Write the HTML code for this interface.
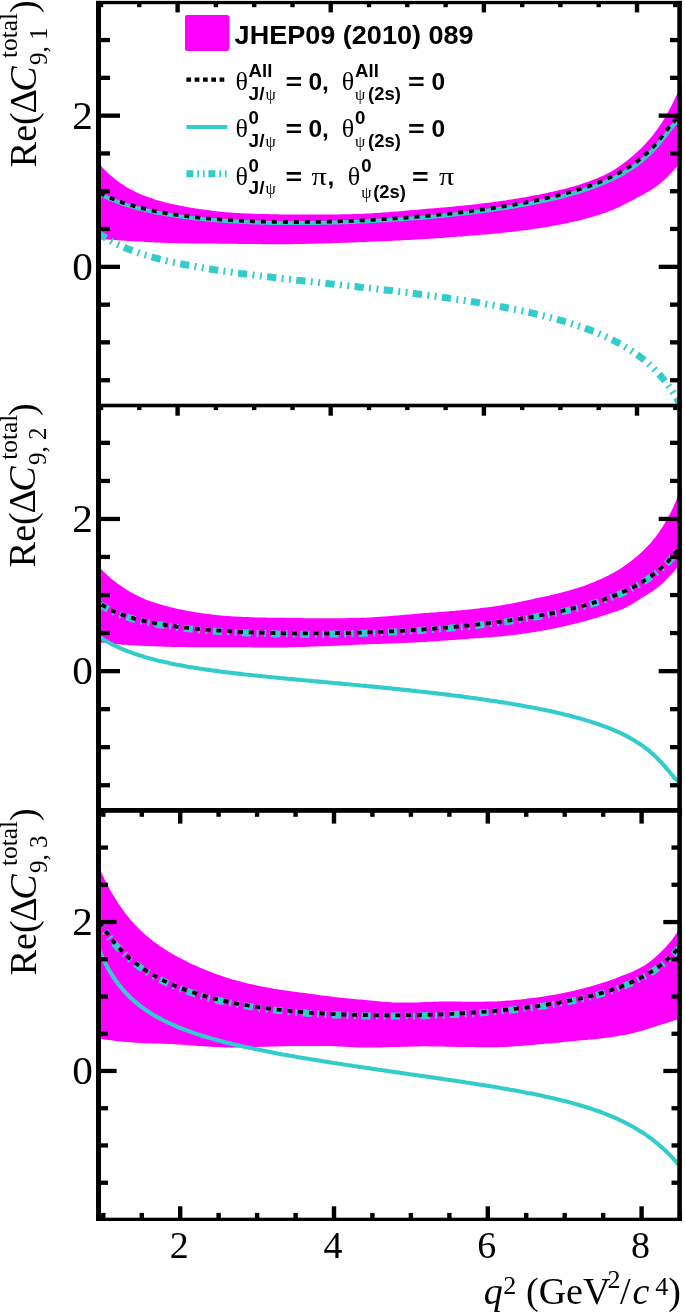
<!DOCTYPE html>
<html lang="en"><head><meta charset="utf-8"><title>Re(Delta C9 total) vs q2</title>
<style>html,body{margin:0;padding:0;background:#fff}svg{display:block;will-change:transform}.s{font-family:'Liberation Serif','Times New Roman',serif;fill:#000}.h{font-family:'Liberation Sans',Arial,sans-serif;font-weight:bold;fill:#000}.g{font-family:'Liberation Serif','Times New Roman',serif;fill:#000}</style></head><body>
<svg width="685" height="1312" viewBox="0 0 685 1312">
<rect width="685" height="1312" fill="#fff"/>
<defs>
<clipPath id="c1"><rect x="96" y="1.2" width="585.9" height="402.5"/></clipPath>
<clipPath id="c2"><rect x="96" y="404.3" width="585.9" height="403.7"/></clipPath>
<clipPath id="c3"><rect x="96" y="809.8" width="585.9" height="407.9"/></clipPath>
</defs>
<g clip-path="url(#c1)">
<polygon fill="#ff00ff" points="96,159.5 98.5,162.7 100.9,165.7 103.4,168.4 105.8,171 108.3,173.3 110.7,175.6 113.2,177.6 115.6,179.6 118.1,181.4 120.5,183.2 123,184.8 125.4,186.4 127.9,187.9 130.3,189.2 132.8,190.5 135.2,191.7 137.7,192.9 140.1,193.9 142.6,195 145,195.9 147.5,196.9 149.9,197.8 152.4,198.6 154.8,199.4 157.3,200.2 159.7,200.9 162.2,201.6 164.7,202.2 167.1,202.9 169.6,203.5 172,204 174.5,204.6 176.9,205.1 179.4,205.6 181.8,206.1 184.3,206.5 186.7,207 189.2,207.4 191.6,207.8 194.1,208.2 196.5,208.6 199,208.9 201.4,209.3 203.9,209.6 206.3,210 208.8,210.3 211.2,210.6 213.7,210.9 216.1,211.2 218.6,211.5 221,211.7 223.5,212 225.9,212.2 228.4,212.4 230.9,212.6 233.3,212.8 235.8,212.9 238.2,213.1 240.7,213.2 243.1,213.3 245.6,213.4 248,213.5 250.5,213.6 252.9,213.7 255.4,213.8 257.8,213.9 260.3,213.9 262.7,214 265.2,214.1 267.6,214.1 270.1,214.2 272.5,214.2 275,214.3 277.4,214.3 279.9,214.4 282.3,214.4 284.8,214.4 287.2,214.5 289.7,214.5 292.2,214.5 294.6,214.5 297.1,214.5 299.5,214.5 302,214.5 304.4,214.5 306.9,214.5 309.3,214.5 311.8,214.5 314.2,214.5 316.7,214.5 319.1,214.5 321.6,214.5 324,214.5 326.5,214.5 328.9,214.5 331.4,214.5 333.8,214.4 336.3,214.4 338.7,214.4 341.2,214.3 343.6,214.3 346.1,214.3 348.5,214.2 351,214.2 353.4,214.1 355.9,214 358.4,214 360.8,213.9 363.3,213.8 365.7,213.6 368.2,213.5 370.6,213.4 373.1,213.2 375.5,213.1 378,212.9 380.4,212.7 382.9,212.5 385.3,212.3 387.8,212.2 390.2,212 392.7,211.8 395.1,211.6 397.6,211.4 400,211.2 402.5,211 404.9,210.8 407.4,210.6 409.8,210.3 412.3,210.1 414.7,209.9 417.2,209.7 419.6,209.5 422.1,209.3 424.6,209.1 427,208.8 429.5,208.6 431.9,208.4 434.4,208.2 436.8,208 439.3,207.8 441.7,207.6 444.2,207.4 446.6,207.2 449.1,207 451.5,206.8 454,206.5 456.4,206.3 458.9,206.1 461.3,205.8 463.8,205.6 466.2,205.3 468.7,205.1 471.1,204.8 473.6,204.5 476,204.2 478.5,203.9 480.9,203.6 483.4,203.3 485.8,203 488.3,202.7 490.8,202.4 493.2,202.1 495.7,201.8 498.1,201.4 500.6,201.1 503,200.7 505.5,200.4 507.9,200 510.4,199.6 512.8,199.2 515.3,198.8 517.7,198.4 520.2,198 522.6,197.6 525.1,197.2 527.5,196.7 530,196.3 532.4,195.8 534.9,195.3 537.3,194.9 539.8,194.4 542.2,193.9 544.7,193.4 547.1,192.9 549.6,192.3 552.1,191.8 554.5,191.3 557,190.7 559.4,190.1 561.9,189.5 564.3,188.9 566.8,188.2 569.2,187.6 571.7,186.9 574.1,186.2 576.6,185.4 579,184.7 581.5,183.9 583.9,183.1 586.4,182.3 588.8,181.4 591.3,180.5 593.7,179.6 596.2,178.7 598.6,177.6 601.1,176.6 603.5,175.5 606,174.3 608.4,173 610.9,171.7 613.3,170.3 615.8,168.7 618.3,167.1 620.7,165.4 623.2,163.6 625.6,161.7 628.1,159.8 630.5,157.7 633,155.7 635.4,153.5 637.9,151.3 640.3,149 642.8,146.6 645.2,144 647.7,141.3 650.1,138.5 652.6,135.5 655,132.3 657.5,129 659.9,125.5 662.4,121.7 664.8,117.7 667.3,113.5 669.7,109.1 672.2,104.3 674.6,99.3 677.1,94 679.5,88.4 682,82.3 682,160.2 679.5,163.3 677.1,166.4 674.6,169.2 672.2,172 669.7,174.6 667.3,177.1 664.8,179.4 662.4,181.6 659.9,183.7 657.5,185.6 655,187.3 652.6,189 650.1,190.5 647.7,191.9 645.2,193.3 642.8,194.7 640.3,196 637.9,197.3 635.4,198.6 633,199.9 630.5,201.2 628.1,202.5 625.6,203.7 623.2,205 620.7,206.2 618.3,207.4 615.8,208.5 613.3,209.5 610.9,210.6 608.4,211.5 606,212.4 603.5,213.3 601.1,214.1 598.6,214.9 596.2,215.6 593.7,216.4 591.3,217.1 588.8,217.8 586.4,218.5 583.9,219.1 581.5,219.8 579,220.4 576.6,221 574.1,221.5 571.7,222.1 569.2,222.6 566.8,223.2 564.3,223.7 561.9,224.2 559.4,224.7 557,225.1 554.5,225.6 552.1,226 549.6,226.5 547.1,226.9 544.7,227.3 542.2,227.7 539.8,228.1 537.3,228.5 534.9,228.8 532.4,229.2 530,229.5 527.5,229.9 525.1,230.2 522.6,230.5 520.2,230.8 517.7,231.1 515.3,231.4 512.8,231.7 510.4,232 507.9,232.3 505.5,232.5 503,232.8 500.6,233 498.1,233.3 495.7,233.5 493.2,233.8 490.8,234 488.3,234.2 485.8,234.4 483.4,234.6 480.9,234.8 478.5,235 476,235.2 473.6,235.4 471.1,235.6 468.7,235.8 466.2,236 463.8,236.2 461.3,236.4 458.9,236.6 456.4,236.7 454,236.9 451.5,237.1 449.1,237.3 446.6,237.5 444.2,237.7 441.7,237.9 439.3,238 436.8,238.2 434.4,238.4 431.9,238.5 429.5,238.7 427,238.9 424.6,239 422.1,239.2 419.6,239.3 417.2,239.5 414.7,239.6 412.3,239.7 409.8,239.9 407.4,240 404.9,240.1 402.5,240.3 400,240.4 397.6,240.5 395.1,240.6 392.7,240.8 390.2,240.9 387.8,241 385.3,241.1 382.9,241.2 380.4,241.3 378,241.4 375.5,241.5 373.1,241.6 370.6,241.7 368.2,241.8 365.7,241.9 363.3,242 360.8,242.1 358.4,242.2 355.9,242.3 353.4,242.4 351,242.5 348.5,242.6 346.1,242.7 343.6,242.8 341.2,242.8 338.7,242.9 336.3,243 333.8,243.1 331.4,243.2 328.9,243.2 326.5,243.3 324,243.4 321.6,243.5 319.1,243.5 316.7,243.6 314.2,243.7 311.8,243.7 309.3,243.8 306.9,243.8 304.4,243.9 302,244 299.5,244 297.1,244.1 294.6,244.1 292.2,244.2 289.7,244.2 287.2,244.2 284.8,244.2 282.3,244.2 279.9,244.2 277.4,244.2 275,244.2 272.5,244.2 270.1,244.2 267.6,244.2 265.2,244.2 262.7,244.2 260.3,244.1 257.8,244.1 255.4,244.1 252.9,244.1 250.5,244 248,244 245.6,244 243.1,243.9 240.7,243.9 238.2,243.9 235.8,243.8 233.3,243.8 230.9,243.8 228.4,243.7 225.9,243.7 223.5,243.7 221,243.7 218.6,243.7 216.1,243.6 213.7,243.6 211.2,243.6 208.8,243.6 206.3,243.6 203.9,243.6 201.4,243.5 199,243.5 196.5,243.5 194.1,243.5 191.6,243.4 189.2,243.4 186.7,243.3 184.3,243.3 181.8,243.3 179.4,243.2 176.9,243.2 174.5,243.1 172,243 169.6,243 167.1,242.9 164.7,242.8 162.2,242.7 159.7,242.6 157.3,242.5 154.8,242.4 152.4,242.3 149.9,242.2 147.5,242 145,241.9 142.6,241.8 140.1,241.6 137.7,241.5 135.2,241.4 132.8,241.2 130.3,241.1 127.9,240.9 125.4,240.8 123,240.6 120.5,240.5 118.1,240.3 115.6,240.1 113.2,240 110.7,239.8 108.3,239.6 105.8,239.4 103.4,239.2 100.9,238.9 98.5,238.7 96,238.5"/>
<polyline stroke="#33cccc" stroke-width="4.0" fill="none" points="96,192 98.5,193.3 100.9,194.6 103.4,195.8 105.8,197 108.3,198.1 110.7,199.1 113.2,200.2 115.6,201.1 118.1,202.1 120.5,202.9 123,203.8 125.4,204.6 127.9,205.4 130.3,206.1 132.8,206.8 135.2,207.5 137.7,208.2 140.1,208.8 142.6,209.4 145,210 147.5,210.6 149.9,211.2 152.4,211.7 154.8,212.2 157.3,212.7 159.7,213.1 162.2,213.6 164.7,214 167.1,214.5 169.6,214.9 172,215.3 174.5,215.6 176.9,216 179.4,216.3 181.8,216.7 184.3,217 186.7,217.3 189.2,217.6 191.6,217.9 194.1,218.2 196.5,218.5 199,218.7 201.4,219 203.9,219.2 206.3,219.5 208.8,219.7 211.2,219.9 213.7,220.1 216.1,220.3 218.6,220.5 221,220.7 223.5,220.8 225.9,221 228.4,221.2 230.9,221.3 233.3,221.5 235.8,221.6 238.2,221.7 240.7,221.8 243.1,222 245.6,222.1 248,222.2 250.5,222.3 252.9,222.4 255.4,222.5 257.8,222.5 260.3,222.6 262.7,222.7 265.2,222.7 267.6,222.8 270.1,222.9 272.5,222.9 275,222.9 277.4,223 279.9,223 282.3,223 284.8,223.1 287.2,223.1 289.7,223.1 292.2,223.1 294.6,223.1 297.1,223.1 299.5,223.1 302,223.1 304.4,223.1 306.9,223 309.3,223 311.8,223 314.2,223 316.7,222.9 319.1,222.9 321.6,222.8 324,222.8 326.5,222.7 328.9,222.7 331.4,222.6 333.8,222.6 336.3,222.5 338.7,222.4 341.2,222.3 343.6,222.3 346.1,222.2 348.5,222.1 351,222 353.4,221.9 355.9,221.8 358.4,221.7 360.8,221.6 363.3,221.5 365.7,221.4 368.2,221.2 370.6,221.1 373.1,221 375.5,220.9 378,220.7 380.4,220.6 382.9,220.5 385.3,220.3 387.8,220.2 390.2,220 392.7,219.8 395.1,219.7 397.6,219.5 400,219.4 402.5,219.2 404.9,219 407.4,218.8 409.8,218.6 412.3,218.5 414.7,218.3 417.2,218.1 419.6,217.9 422.1,217.7 424.6,217.5 427,217.2 429.5,217 431.9,216.8 434.4,216.6 436.8,216.3 439.3,216.1 441.7,215.9 444.2,215.6 446.6,215.4 449.1,215.1 451.5,214.9 454,214.6 456.4,214.3 458.9,214.1 461.3,213.8 463.8,213.5 466.2,213.2 468.7,212.9 471.1,212.6 473.6,212.3 476,212 478.5,211.7 480.9,211.4 483.4,211.1 485.8,210.7 488.3,210.4 490.8,210 493.2,209.7 495.7,209.3 498.1,209 500.6,208.6 503,208.2 505.5,207.9 507.9,207.5 510.4,207.1 512.8,206.7 515.3,206.2 517.7,205.8 520.2,205.4 522.6,205 525.1,204.5 527.5,204.1 530,203.6 532.4,203.1 534.9,202.6 537.3,202.1 539.8,201.6 542.2,201.1 544.7,200.6 547.1,200.1 549.6,199.5 552.1,198.9 554.5,198.4 557,197.8 559.4,197.2 561.9,196.6 564.3,195.9 566.8,195.3 569.2,194.6 571.7,193.9 574.1,193.2 576.6,192.5 579,191.8 581.5,191 583.9,190.2 586.4,189.4 588.8,188.6 591.3,187.7 593.7,186.8 596.2,185.9 598.6,185 601.1,184 603.5,183 606,181.9 608.4,180.8 610.9,179.7 613.3,178.6 615.8,177.3 618.3,176.1 620.7,174.7 623.2,173.4 625.6,171.9 628.1,170.4 630.5,168.9 633,167.2 635.4,165.5 637.9,163.7 640.3,161.8 642.8,159.8 645.2,157.6 647.7,155.4 650.1,153 652.6,150.6 655,147.9 657.5,145.2 659.9,142.3 662.4,139.2 664.8,136.1 667.3,132.9 669.7,129.7 672.2,126.7 674.6,124.1 677.1,122.4 679.5,122.4 682,126"/>
<polyline stroke="#000" stroke-width="3.8" stroke-dasharray="5.0 5.98" stroke-dashoffset="6.5" fill="none" points="96,190.9 98.5,192.2 100.9,193.5 103.4,194.7 105.8,195.9 108.3,197 110.7,198 113.2,199.1 115.6,200 118.1,201 120.5,201.8 123,202.7 125.4,203.5 127.9,204.3 130.3,205 132.8,205.7 135.2,206.4 137.7,207.1 140.1,207.7 142.6,208.3 145,208.9 147.5,209.5 149.9,210.1 152.4,210.6 154.8,211.1 157.3,211.6 159.7,212 162.2,212.5 164.7,212.9 167.1,213.4 169.6,213.8 172,214.2 174.5,214.5 176.9,214.9 179.4,215.2 181.8,215.6 184.3,215.9 186.7,216.2 189.2,216.5 191.6,216.8 194.1,217.1 196.5,217.4 199,217.6 201.4,217.9 203.9,218.1 206.3,218.4 208.8,218.6 211.2,218.8 213.7,219 216.1,219.2 218.6,219.4 221,219.6 223.5,219.7 225.9,219.9 228.4,220.1 230.9,220.2 233.3,220.4 235.8,220.5 238.2,220.6 240.7,220.7 243.1,220.9 245.6,221 248,221.1 250.5,221.2 252.9,221.3 255.4,221.4 257.8,221.4 260.3,221.5 262.7,221.6 265.2,221.6 267.6,221.7 270.1,221.8 272.5,221.8 275,221.8 277.4,221.9 279.9,221.9 282.3,221.9 284.8,222 287.2,222 289.7,222 292.2,222 294.6,222 297.1,222 299.5,222 302,222 304.4,222 306.9,221.9 309.3,221.9 311.8,221.9 314.2,221.9 316.7,221.8 319.1,221.8 321.6,221.7 324,221.7 326.5,221.6 328.9,221.6 331.4,221.5 333.8,221.4 336.3,221.4 338.7,221.3 341.2,221.2 343.6,221.1 346.1,221 348.5,220.9 351,220.9 353.4,220.8 355.9,220.6 358.4,220.5 360.8,220.4 363.3,220.3 365.7,220.2 368.2,220.1 370.6,219.9 373.1,219.8 375.5,219.7 378,219.5 380.4,219.4 382.9,219.2 385.3,219.1 387.8,218.9 390.2,218.8 392.7,218.6 395.1,218.4 397.6,218.3 400,218.1 402.5,217.9 404.9,217.7 407.4,217.5 409.8,217.3 412.3,217.1 414.7,216.9 417.2,216.7 419.6,216.5 422.1,216.3 424.6,216.1 427,215.9 429.5,215.6 431.9,215.4 434.4,215.2 436.8,214.9 439.3,214.7 441.7,214.4 444.2,214.2 446.6,213.9 449.1,213.6 451.5,213.4 454,213.1 456.4,212.8 458.9,212.5 461.3,212.3 463.8,212 466.2,211.7 468.7,211.3 471.1,211 473.6,210.7 476,210.4 478.5,210.1 480.9,209.7 483.4,209.4 485.8,209 488.3,208.7 490.8,208.3 493.2,208 495.7,207.6 498.1,207.2 500.6,206.8 503,206.4 505.5,206 507.9,205.6 510.4,205.2 512.8,204.8 515.3,204.4 517.7,203.9 520.2,203.5 522.6,203 525.1,202.6 527.5,202.1 530,201.6 532.4,201.1 534.9,200.6 537.3,200.1 539.8,199.6 542.2,199 544.7,198.5 547.1,197.9 549.6,197.4 552.1,196.8 554.5,196.2 557,195.6 559.4,194.9 561.9,194.3 564.3,193.6 566.8,193 569.2,192.3 571.7,191.6 574.1,190.9 576.6,190.1 579,189.3 581.5,188.6 583.9,187.8 586.4,186.9 588.8,186.1 591.3,185.2 593.7,184.3 596.2,183.3 598.6,182.4 601.1,181.4 603.5,180.3 606,179.3 608.4,178.1 610.9,177 613.3,175.8 615.8,174.6 618.3,173.3 620.7,171.9 623.2,170.5 625.6,169.1 628.1,167.5 630.5,165.9 633,164.3 635.4,162.5 637.9,160.7 640.3,158.7 642.8,156.7 645.2,154.5 647.7,152.3 650.1,149.9 652.6,147.4 655,144.7 657.5,141.9 659.9,139 662.4,135.9 664.8,132.8 667.3,129.5 669.7,126.3 672.2,123.3 674.6,120.6 677.1,118.9 679.5,118.9 682,122.5"/>
<polyline stroke="#33cccc" stroke-width="7" stroke-dasharray="9.2 5.4 1.9 5.5 1.9 5.43" stroke-dashoffset="26.5" fill="none" points="96,231.5 98.5,233.3 100.9,234.9 103.4,236.5 105.8,238 108.3,239.5 110.7,240.9 113.2,242.2 115.6,243.4 118.1,244.6 120.5,245.7 123,246.8 125.4,247.9 127.9,248.9 130.3,249.8 132.8,250.8 135.2,251.7 137.7,252.5 140.1,253.4 142.6,254.2 145,254.9 147.5,255.7 149.9,256.4 152.4,257.1 154.8,257.8 157.3,258.4 159.7,259.1 162.2,259.7 164.7,260.3 167.1,260.9 169.6,261.4 172,262 174.5,262.5 176.9,263 179.4,263.5 181.8,264 184.3,264.5 186.7,265 189.2,265.5 191.6,265.9 194.1,266.4 196.5,266.8 199,267.2 201.4,267.6 203.9,268.1 206.3,268.5 208.8,268.9 211.2,269.2 213.7,269.6 216.1,270 218.6,270.4 221,270.7 223.5,271.1 225.9,271.4 228.4,271.8 230.9,272.1 233.3,272.5 235.8,272.8 238.2,273.1 240.7,273.5 243.1,273.8 245.6,274.1 248,274.4 250.5,274.7 252.9,275 255.4,275.3 257.8,275.6 260.3,275.9 262.7,276.2 265.2,276.5 267.6,276.8 270.1,277.1 272.5,277.4 275,277.7 277.4,278 279.9,278.2 282.3,278.5 284.8,278.8 287.2,279.1 289.7,279.3 292.2,279.6 294.6,279.9 297.1,280.2 299.5,280.4 302,280.7 304.4,281 306.9,281.3 309.3,281.5 311.8,281.8 314.2,282.1 316.7,282.3 319.1,282.6 321.6,282.9 324,283.1 326.5,283.4 328.9,283.7 331.4,283.9 333.8,284.2 336.3,284.5 338.7,284.7 341.2,285 343.6,285.3 346.1,285.5 348.5,285.8 351,286.1 353.4,286.4 355.9,286.6 358.4,286.9 360.8,287.2 363.3,287.4 365.7,287.7 368.2,288 370.6,288.3 373.1,288.6 375.5,288.8 378,289.1 380.4,289.4 382.9,289.7 385.3,290 387.8,290.3 390.2,290.6 392.7,290.8 395.1,291.1 397.6,291.4 400,291.7 402.5,292 404.9,292.3 407.4,292.6 409.8,292.9 412.3,293.2 414.7,293.6 417.2,293.9 419.6,294.2 422.1,294.5 424.6,294.8 427,295.1 429.5,295.5 431.9,295.8 434.4,296.1 436.8,296.5 439.3,296.8 441.7,297.1 444.2,297.5 446.6,297.8 449.1,298.2 451.5,298.5 454,298.9 456.4,299.3 458.9,299.6 461.3,300 463.8,300.4 466.2,300.8 468.7,301.1 471.1,301.5 473.6,301.9 476,302.3 478.5,302.7 480.9,303.1 483.4,303.5 485.8,304 488.3,304.4 490.8,304.8 493.2,305.2 495.7,305.7 498.1,306.1 500.6,306.6 503,307 505.5,307.5 507.9,308 510.4,308.5 512.8,309 515.3,309.5 517.7,310 520.2,310.5 522.6,311 525.1,311.5 527.5,312.1 530,312.6 532.4,313.2 534.9,313.7 537.3,314.3 539.8,314.9 542.2,315.5 544.7,316.1 547.1,316.7 549.6,317.4 552.1,318 554.5,318.7 557,319.3 559.4,320 561.9,320.7 564.3,321.5 566.8,322.2 569.2,322.9 571.7,323.7 574.1,324.5 576.6,325.3 579,326.1 581.5,327 583.9,327.8 586.4,328.7 588.8,329.6 591.3,330.6 593.7,331.5 596.2,332.5 598.6,333.5 601.1,334.6 603.5,335.7 606,336.8 608.4,337.9 610.9,339.1 613.3,340.3 615.8,341.6 618.3,342.9 620.7,344.2 623.2,345.6 625.6,347.1 628.1,348.6 630.5,350.1 633,351.7 635.4,353.4 637.9,355.2 640.3,357 642.8,358.9 645.2,360.9 647.7,363 650.1,365.2 652.6,367.5 655,369.9 657.5,372.4 659.9,375.1 662.4,377.9 664.8,380.9 667.3,384.1 669.7,387.4 672.2,391 674.6,394.8 677.1,398.9 679.5,403.3 682,407.9"/>
</g>
<g clip-path="url(#c2)">
<polygon fill="#ff00ff" points="96,563 98.5,566 100.9,568.8 103.4,571.4 105.8,573.8 108.3,576.1 110.7,578.2 113.2,580.2 115.6,582.1 118.1,583.9 120.5,585.6 123,587.3 125.4,588.9 127.9,590.4 130.3,591.9 132.8,593.3 135.2,594.6 137.7,595.9 140.1,597 142.6,598.1 145,599.2 147.5,600.2 149.9,601.1 152.4,602 154.8,602.8 157.3,603.6 159.7,604.3 162.2,605 164.7,605.7 167.1,606.3 169.6,606.9 172,607.5 174.5,608.1 176.9,608.7 179.4,609.2 181.8,609.7 184.3,610.2 186.7,610.7 189.2,611.2 191.6,611.6 194.1,612 196.5,612.4 199,612.8 201.4,613.2 203.9,613.5 206.3,613.8 208.8,614.1 211.2,614.4 213.7,614.7 216.1,615 218.6,615.2 221,615.4 223.5,615.7 225.9,615.9 228.4,616.1 230.9,616.2 233.3,616.4 235.8,616.5 238.2,616.7 240.7,616.8 243.1,616.9 245.6,617 248,617.1 250.5,617.2 252.9,617.3 255.4,617.4 257.8,617.5 260.3,617.5 262.7,617.6 265.2,617.6 267.6,617.7 270.1,617.7 272.5,617.7 275,617.8 277.4,617.8 279.9,617.8 282.3,617.8 284.8,617.8 287.2,617.9 289.7,617.9 292.2,618 294.6,618 297.1,618 299.5,618.1 302,618.1 304.4,618.2 306.9,618.2 309.3,618.2 311.8,618.3 314.2,618.3 316.7,618.3 319.1,618.3 321.6,618.3 324,618.3 326.5,618.3 328.9,618.3 331.4,618.3 333.8,618.3 336.3,618.3 338.7,618.3 341.2,618.2 343.6,618.2 346.1,618.2 348.5,618.1 351,618.1 353.4,618.1 355.9,618 358.4,617.9 360.8,617.9 363.3,617.8 365.7,617.7 368.2,617.5 370.6,617.4 373.1,617.2 375.5,617.1 378,616.9 380.4,616.7 382.9,616.6 385.3,616.4 387.8,616.2 390.2,616 392.7,615.8 395.1,615.6 397.6,615.4 400,615.3 402.5,615 404.9,614.8 407.4,614.6 409.8,614.4 412.3,614.2 414.7,614 417.2,613.8 419.6,613.6 422.1,613.3 424.6,613.1 427,613 429.5,612.8 431.9,612.6 434.4,612.4 436.8,612.2 439.3,612 441.7,611.9 444.2,611.7 446.6,611.5 449.1,611.3 451.5,611.1 454,610.9 456.4,610.6 458.9,610.4 461.3,610.2 463.8,610 466.2,609.7 468.7,609.5 471.1,609.2 473.6,608.9 476,608.7 478.5,608.4 480.9,608.1 483.4,607.8 485.8,607.5 488.3,607.2 490.8,606.9 493.2,606.5 495.7,606.2 498.1,605.8 500.6,605.5 503,605.1 505.5,604.6 507.9,604.2 510.4,603.8 512.8,603.3 515.3,602.8 517.7,602.3 520.2,601.8 522.6,601.3 525.1,600.8 527.5,600.3 530,599.7 532.4,599.2 534.9,598.6 537.3,598.1 539.8,597.6 542.2,597 544.7,596.5 547.1,595.9 549.6,595.4 552.1,594.8 554.5,594.3 557,593.7 559.4,593.1 561.9,592.5 564.3,591.8 566.8,591.2 569.2,590.5 571.7,589.8 574.1,589.1 576.6,588.3 579,587.6 581.5,586.7 583.9,585.9 586.4,585 588.8,584.1 591.3,583.1 593.7,582.2 596.2,581.1 598.6,580.1 601.1,579 603.5,577.8 606,576.6 608.4,575.4 610.9,574.1 613.3,572.8 615.8,571.4 618.3,569.9 620.7,568.4 623.2,566.8 625.6,565.1 628.1,563.3 630.5,561.5 633,559.6 635.4,557.6 637.9,555.4 640.3,553.3 642.8,551 645.2,548.6 647.7,546 650.1,543.4 652.6,540.5 655,537.5 657.5,534.3 659.9,530.8 662.4,527.1 664.8,523.2 667.3,518.9 669.7,514.3 672.2,509.4 674.6,504.1 677.1,498.3 679.5,492 682,485.2 682,561.3 679.5,564.6 677.1,567.7 674.6,570.7 672.2,573.5 669.7,576.1 667.3,578.7 664.8,581.1 662.4,583.4 659.9,585.5 657.5,587.5 655,589.4 652.6,591.1 650.1,592.7 647.7,594.3 645.2,595.8 642.8,597.3 640.3,598.8 637.9,600.4 635.4,601.9 633,603.4 630.5,604.9 628.1,606.2 625.6,607.5 623.2,608.7 620.7,609.8 618.3,610.7 615.8,611.5 613.3,612.3 610.9,613.1 608.4,613.9 606,614.7 603.5,615.5 601.1,616.3 598.6,617.1 596.2,617.9 593.7,618.6 591.3,619.3 588.8,620 586.4,620.7 583.9,621.4 581.5,622 579,622.7 576.6,623.3 574.1,623.9 571.7,624.5 569.2,625.1 566.8,625.7 564.3,626.2 561.9,626.8 559.4,627.3 557,627.8 554.5,628.4 552.1,628.8 549.6,629.3 547.1,629.8 544.7,630.2 542.2,630.7 539.8,631.1 537.3,631.5 534.9,631.9 532.4,632.3 530,632.7 527.5,633 525.1,633.4 522.6,633.7 520.2,634 517.7,634.4 515.3,634.7 512.8,635 510.4,635.3 507.9,635.6 505.5,635.9 503,636.1 500.6,636.4 498.1,636.6 495.7,636.8 493.2,637 490.8,637.2 488.3,637.4 485.8,637.6 483.4,637.8 480.9,638 478.5,638.2 476,638.3 473.6,638.5 471.1,638.6 468.7,638.8 466.2,639 463.8,639.2 461.3,639.3 458.9,639.5 456.4,639.7 454,639.9 451.5,640.1 449.1,640.3 446.6,640.5 444.2,640.6 441.7,640.8 439.3,641 436.8,641.2 434.4,641.3 431.9,641.5 429.5,641.6 427,641.8 424.6,641.9 422.1,642.1 419.6,642.2 417.2,642.3 414.7,642.5 412.3,642.6 409.8,642.7 407.4,642.8 404.9,642.9 402.5,643 400,643.1 397.6,643.2 395.1,643.3 392.7,643.4 390.2,643.5 387.8,643.6 385.3,643.7 382.9,643.8 380.4,643.9 378,643.9 375.5,644 373.1,644.1 370.6,644.2 368.2,644.3 365.7,644.4 363.3,644.5 360.8,644.6 358.4,644.7 355.9,644.8 353.4,644.9 351,645 348.5,645.1 346.1,645.2 343.6,645.3 341.2,645.4 338.7,645.5 336.3,645.7 333.8,645.8 331.4,645.9 328.9,646 326.5,646.1 324,646.2 321.6,646.2 319.1,646.3 316.7,646.4 314.2,646.5 311.8,646.6 309.3,646.7 306.9,646.8 304.4,646.9 302,647 299.5,647 297.1,647.1 294.6,647.2 292.2,647.3 289.7,647.3 287.2,647.4 284.8,647.4 282.3,647.4 279.9,647.4 277.4,647.5 275,647.5 272.5,647.4 270.1,647.4 267.6,647.4 265.2,647.4 262.7,647.4 260.3,647.4 257.8,647.4 255.4,647.4 252.9,647.4 250.5,647.3 248,647.3 245.6,647.3 243.1,647.3 240.7,647.3 238.2,647.2 235.8,647.2 233.3,647.2 230.9,647.2 228.4,647.2 225.9,647.2 223.5,647.2 221,647.2 218.6,647.2 216.1,647.2 213.7,647.2 211.2,647.2 208.8,647.2 206.3,647.2 203.9,647.2 201.4,647.2 199,647.2 196.5,647.2 194.1,647.2 191.6,647.2 189.2,647.2 186.7,647.2 184.3,647.1 181.8,647.1 179.4,647.1 176.9,647 174.5,646.9 172,646.9 169.6,646.8 167.1,646.7 164.7,646.7 162.2,646.6 159.7,646.5 157.3,646.4 154.8,646.3 152.4,646.2 149.9,646.1 147.5,646 145,645.9 142.6,645.8 140.1,645.7 137.7,645.6 135.2,645.5 132.8,645.3 130.3,645.2 127.9,645 125.4,644.8 123,644.7 120.5,644.5 118.1,644.2 115.6,644 113.2,643.8 110.7,643.6 108.3,643.3 105.8,643.1 103.4,642.8 100.9,642.5 98.5,642.2 96,641.9"/>
<polyline stroke="#33cccc" stroke-width="7" stroke-dasharray="9.2 5.4 1.9 5.4 1.9 5.4" stroke-dashoffset="23.8" fill="none" points="96,601.2 98.5,603.1 100.9,604.9 103.4,606.5 105.8,608 108.3,609.4 110.7,610.6 113.2,611.8 115.6,612.9 118.1,613.9 120.5,614.9 123,615.8 125.4,616.6 127.9,617.4 130.3,618.2 132.8,618.9 135.2,619.6 137.7,620.2 140.1,620.8 142.6,621.4 145,621.9 147.5,622.5 149.9,623 152.4,623.5 154.8,623.9 157.3,624.4 159.7,624.8 162.2,625.2 164.7,625.6 167.1,626 169.6,626.3 172,626.7 174.5,627 176.9,627.4 179.4,627.7 181.8,628 184.3,628.3 186.7,628.5 189.2,628.8 191.6,629.1 194.1,629.3 196.5,629.6 199,629.8 201.4,630 203.9,630.2 206.3,630.4 208.8,630.6 211.2,630.8 213.7,631 216.1,631.2 218.6,631.4 221,631.5 223.5,631.7 225.9,631.9 228.4,632 230.9,632.2 233.3,632.3 235.8,632.4 238.2,632.6 240.7,632.7 243.1,632.8 245.6,632.9 248,633 250.5,633.1 252.9,633.2 255.4,633.3 257.8,633.4 260.3,633.5 262.7,633.5 265.2,633.6 267.6,633.7 270.1,633.8 272.5,633.8 275,633.9 277.4,633.9 279.9,634 282.3,634 284.8,634.1 287.2,634.1 289.7,634.1 292.2,634.2 294.6,634.2 297.1,634.2 299.5,634.2 302,634.2 304.4,634.2 306.9,634.2 309.3,634.2 311.8,634.2 314.2,634.2 316.7,634.2 319.1,634.2 321.6,634.2 324,634.2 326.5,634.1 328.9,634.1 331.4,634.1 333.8,634 336.3,634 338.7,634 341.2,633.9 343.6,633.9 346.1,633.8 348.5,633.7 351,633.7 353.4,633.6 355.9,633.6 358.4,633.5 360.8,633.4 363.3,633.3 365.7,633.2 368.2,633.2 370.6,633.1 373.1,633 375.5,632.9 378,632.8 380.4,632.7 382.9,632.6 385.3,632.4 387.8,632.3 390.2,632.2 392.7,632.1 395.1,632 397.6,631.8 400,631.7 402.5,631.6 404.9,631.4 407.4,631.3 409.8,631.1 412.3,631 414.7,630.8 417.2,630.6 419.6,630.5 422.1,630.3 424.6,630.1 427,630 429.5,629.8 431.9,629.6 434.4,629.4 436.8,629.2 439.3,629 441.7,628.8 444.2,628.6 446.6,628.4 449.1,628.2 451.5,627.9 454,627.7 456.4,627.5 458.9,627.2 461.3,627 463.8,626.8 466.2,626.5 468.7,626.3 471.1,626 473.6,625.7 476,625.5 478.5,625.2 480.9,624.9 483.4,624.6 485.8,624.3 488.3,624 490.8,623.7 493.2,623.4 495.7,623.1 498.1,622.8 500.6,622.5 503,622.1 505.5,621.8 507.9,621.4 510.4,621.1 512.8,620.7 515.3,620.4 517.7,620 520.2,619.6 522.6,619.2 525.1,618.8 527.5,618.4 530,618 532.4,617.6 534.9,617.1 537.3,616.7 539.8,616.3 542.2,615.8 544.7,615.3 547.1,614.9 549.6,614.4 552.1,613.9 554.5,613.4 557,612.9 559.4,612.3 561.9,611.8 564.3,611.2 566.8,610.7 569.2,610.1 571.7,609.5 574.1,608.9 576.6,608.3 579,607.6 581.5,607 583.9,606.3 586.4,605.6 588.8,604.9 591.3,604.2 593.7,603.4 596.2,602.7 598.6,601.9 601.1,601.1 603.5,600.3 606,599.4 608.4,598.5 610.9,597.6 613.3,596.7 615.8,595.7 618.3,594.7 620.7,593.7 623.2,592.6 625.6,591.5 628.1,590.3 630.5,589.1 633,587.9 635.4,586.6 637.9,585.2 640.3,583.8 642.8,582.4 645.2,580.8 647.7,579.2 650.1,577.5 652.6,575.8 655,573.9 657.5,572 659.9,569.9 662.4,567.7 664.8,565.4 667.3,563 669.7,560.3 672.2,557.6 674.6,554.6 677.1,551.4 679.5,547.9 682,544.2"/>
<polyline stroke="#000" stroke-width="3.8" stroke-dasharray="5.0 5.8" stroke-dashoffset="3.8" fill="none" points="96,600.4 98.5,602.3 100.9,604.1 103.4,605.7 105.8,607.2 108.3,608.6 110.7,609.8 113.2,611 115.6,612.1 118.1,613.1 120.5,614.1 123,615 125.4,615.8 127.9,616.6 130.3,617.4 132.8,618.1 135.2,618.8 137.7,619.4 140.1,620 142.6,620.6 145,621.1 147.5,621.7 149.9,622.2 152.4,622.7 154.8,623.1 157.3,623.6 159.7,624 162.2,624.4 164.7,624.8 167.1,625.2 169.6,625.5 172,625.9 174.5,626.2 176.9,626.6 179.4,626.9 181.8,627.2 184.3,627.5 186.7,627.7 189.2,628 191.6,628.3 194.1,628.5 196.5,628.8 199,629 201.4,629.2 203.9,629.4 206.3,629.6 208.8,629.8 211.2,630 213.7,630.2 216.1,630.4 218.6,630.6 221,630.7 223.5,630.9 225.9,631.1 228.4,631.2 230.9,631.4 233.3,631.5 235.8,631.6 238.2,631.8 240.7,631.9 243.1,632 245.6,632.1 248,632.2 250.5,632.3 252.9,632.4 255.4,632.5 257.8,632.6 260.3,632.7 262.7,632.7 265.2,632.8 267.6,632.9 270.1,633 272.5,633 275,633.1 277.4,633.1 279.9,633.2 282.3,633.2 284.8,633.3 287.2,633.3 289.7,633.3 292.2,633.4 294.6,633.4 297.1,633.4 299.5,633.4 302,633.4 304.4,633.4 306.9,633.4 309.3,633.4 311.8,633.4 314.2,633.4 316.7,633.4 319.1,633.4 321.6,633.4 324,633.4 326.5,633.3 328.9,633.3 331.4,633.3 333.8,633.2 336.3,633.2 338.7,633.2 341.2,633.1 343.6,633.1 346.1,633 348.5,632.9 351,632.9 353.4,632.8 355.9,632.8 358.4,632.7 360.8,632.6 363.3,632.5 365.7,632.4 368.2,632.4 370.6,632.3 373.1,632.2 375.5,632.1 378,632 380.4,631.9 382.9,631.8 385.3,631.6 387.8,631.5 390.2,631.4 392.7,631.3 395.1,631.2 397.6,631 400,630.9 402.5,630.8 404.9,630.6 407.4,630.5 409.8,630.3 412.3,630.2 414.7,630 417.2,629.8 419.6,629.7 422.1,629.5 424.6,629.3 427,629.2 429.5,629 431.9,628.8 434.4,628.6 436.8,628.4 439.3,628.2 441.7,628 444.2,627.8 446.6,627.6 449.1,627.4 451.5,627.1 454,626.9 456.4,626.7 458.9,626.4 461.3,626.2 463.8,626 466.2,625.7 468.7,625.5 471.1,625.2 473.6,624.9 476,624.7 478.5,624.4 480.9,624.1 483.4,623.8 485.8,623.5 488.3,623.2 490.8,622.9 493.2,622.6 495.7,622.3 498.1,622 500.6,621.7 503,621.3 505.5,621 507.9,620.6 510.4,620.3 512.8,619.9 515.3,619.6 517.7,619.2 520.2,618.8 522.6,618.4 525.1,618 527.5,617.6 530,617.2 532.4,616.8 534.9,616.3 537.3,615.9 539.8,615.5 542.2,615 544.7,614.5 547.1,614.1 549.6,613.6 552.1,613.1 554.5,612.6 557,612.1 559.4,611.5 561.9,611 564.3,610.4 566.8,609.9 569.2,609.3 571.7,608.7 574.1,608.1 576.6,607.5 579,606.8 581.5,606.2 583.9,605.5 586.4,604.8 588.8,604.1 591.3,603.4 593.7,602.6 596.2,601.9 598.6,601.1 601.1,600.3 603.5,599.5 606,598.6 608.4,597.7 610.9,596.8 613.3,595.9 615.8,594.9 618.3,593.9 620.7,592.9 623.2,591.8 625.6,590.7 628.1,589.5 630.5,588.3 633,587.1 635.4,585.8 637.9,584.4 640.3,583 642.8,581.6 645.2,580 647.7,578.4 650.1,576.7 652.6,575 655,573.1 657.5,571.2 659.9,569.1 662.4,566.9 664.8,564.6 667.3,562.2 669.7,559.5 672.2,556.8 674.6,553.8 677.1,550.6 679.5,547.1 682,543.4"/>
<polyline stroke="#33cccc" stroke-width="4.1" fill="none" points="96,634.6 98.5,636.3 100.9,637.9 103.4,639.4 105.8,640.9 108.3,642.3 110.7,643.6 113.2,644.8 115.6,646 118.1,647.2 120.5,648.3 123,649.3 125.4,650.3 127.9,651.3 130.3,652.2 132.8,653.1 135.2,654 137.7,654.8 140.1,655.6 142.6,656.3 145,657.1 147.5,657.8 149.9,658.5 152.4,659.1 154.8,659.8 157.3,660.4 159.7,661 162.2,661.5 164.7,662.1 167.1,662.6 169.6,663.2 172,663.7 174.5,664.2 176.9,664.7 179.4,665.1 181.8,665.6 184.3,666 186.7,666.5 189.2,666.9 191.6,667.3 194.1,667.7 196.5,668.1 199,668.5 201.4,668.8 203.9,669.2 206.3,669.6 208.8,669.9 211.2,670.3 213.7,670.6 216.1,670.9 218.6,671.2 221,671.6 223.5,671.9 225.9,672.2 228.4,672.5 230.9,672.8 233.3,673.1 235.8,673.4 238.2,673.6 240.7,673.9 243.1,674.2 245.6,674.5 248,674.7 250.5,675 252.9,675.3 255.4,675.5 257.8,675.8 260.3,676 262.7,676.3 265.2,676.5 267.6,676.8 270.1,677 272.5,677.3 275,677.5 277.4,677.7 279.9,678 282.3,678.2 284.8,678.4 287.2,678.7 289.7,678.9 292.2,679.1 294.6,679.4 297.1,679.6 299.5,679.8 302,680 304.4,680.3 306.9,680.5 309.3,680.7 311.8,680.9 314.2,681.2 316.7,681.4 319.1,681.6 321.6,681.8 324,682.1 326.5,682.3 328.9,682.5 331.4,682.7 333.8,683 336.3,683.2 338.7,683.4 341.2,683.6 343.6,683.9 346.1,684.1 348.5,684.3 351,684.5 353.4,684.8 355.9,685 358.4,685.2 360.8,685.5 363.3,685.7 365.7,685.9 368.2,686.2 370.6,686.4 373.1,686.6 375.5,686.9 378,687.1 380.4,687.4 382.9,687.6 385.3,687.9 387.8,688.1 390.2,688.3 392.7,688.6 395.1,688.8 397.6,689.1 400,689.4 402.5,689.6 404.9,689.9 407.4,690.1 409.8,690.4 412.3,690.7 414.7,690.9 417.2,691.2 419.6,691.5 422.1,691.7 424.6,692 427,692.3 429.5,692.6 431.9,692.8 434.4,693.1 436.8,693.4 439.3,693.7 441.7,694 444.2,694.3 446.6,694.6 449.1,694.9 451.5,695.2 454,695.5 456.4,695.8 458.9,696.1 461.3,696.4 463.8,696.8 466.2,697.1 468.7,697.4 471.1,697.8 473.6,698.1 476,698.4 478.5,698.8 480.9,699.1 483.4,699.5 485.8,699.8 488.3,700.2 490.8,700.6 493.2,700.9 495.7,701.3 498.1,701.7 500.6,702.1 503,702.4 505.5,702.8 507.9,703.2 510.4,703.6 512.8,704.1 515.3,704.5 517.7,704.9 520.2,705.3 522.6,705.8 525.1,706.2 527.5,706.7 530,707.1 532.4,707.6 534.9,708 537.3,708.5 539.8,709 542.2,709.5 544.7,710 547.1,710.5 549.6,711.1 552.1,711.6 554.5,712.1 557,712.7 559.4,713.3 561.9,713.8 564.3,714.4 566.8,715 569.2,715.6 571.7,716.3 574.1,716.9 576.6,717.6 579,718.2 581.5,718.9 583.9,719.6 586.4,720.4 588.8,721.1 591.3,721.9 593.7,722.7 596.2,723.5 598.6,724.3 601.1,725.2 603.5,726.1 606,727 608.4,727.9 610.9,728.9 613.3,729.9 615.8,731 618.3,732.1 620.7,733.2 623.2,734.4 625.6,735.6 628.1,736.9 630.5,738.3 633,739.7 635.4,741.2 637.9,742.7 640.3,744.3 642.8,746 645.2,747.8 647.7,749.7 650.1,751.7 652.6,753.9 655,756.1 657.5,758.5 659.9,761 662.4,763.6 664.8,766.4 667.3,769.3 669.7,772.3 672.2,775.2 674.6,778.1 677.1,780.4 679.5,781.8 682,781.1"/>
</g>
<g clip-path="url(#c3)">
<polygon fill="#ff00ff" points="96,859.6 98.5,865.7 100.9,871.4 103.4,876.7 105.8,881.8 108.3,886.5 110.7,890.9 113.2,895.1 115.6,899.1 118.1,903 120.5,906.6 123,910.1 125.4,913.4 127.9,916.6 130.3,919.5 132.8,922.3 135.2,925 137.7,927.5 140.1,929.9 142.6,932.3 145,934.5 147.5,936.5 149.9,938.6 152.4,940.5 154.8,942.4 157.3,944.1 159.7,945.9 162.2,947.5 164.7,949.2 167.1,950.7 169.6,952.2 172,953.7 174.5,955.1 176.9,956.5 179.4,957.8 181.8,959.1 184.3,960.3 186.7,961.5 189.2,962.7 191.6,963.9 194.1,965 196.5,966.1 199,967.2 201.4,968.3 203.9,969.3 206.3,970.3 208.8,971.3 211.2,972.3 213.7,973.2 216.1,974.1 218.6,975 221,975.8 223.5,976.7 225.9,977.4 228.4,978.2 230.9,978.9 233.3,979.7 235.8,980.3 238.2,981 240.7,981.6 243.1,982.3 245.6,982.9 248,983.5 250.5,984 252.9,984.6 255.4,985.1 257.8,985.7 260.3,986.2 262.7,986.7 265.2,987.2 267.6,987.6 270.1,988.1 272.5,988.5 275,988.9 277.4,989.3 279.9,989.7 282.3,990.1 284.8,990.4 287.2,990.8 289.7,991.1 292.2,991.4 294.6,991.8 297.1,992.1 299.5,992.4 302,992.7 304.4,993 306.9,993.3 309.3,993.7 311.8,994 314.2,994.3 316.7,994.7 319.1,995 321.6,995.4 324,995.7 326.5,996 328.9,996.3 331.4,996.6 333.8,996.9 336.3,997.2 338.7,997.5 341.2,997.8 343.6,998.1 346.1,998.3 348.5,998.5 351,998.8 353.4,999 355.9,999.2 358.4,999.4 360.8,999.6 363.3,999.8 365.7,1000 368.2,1000.3 370.6,1000.5 373.1,1000.7 375.5,1001 378,1001.2 380.4,1001.5 382.9,1001.7 385.3,1001.9 387.8,1002.1 390.2,1002.3 392.7,1002.4 395.1,1002.5 397.6,1002.6 400,1002.6 402.5,1002.6 404.9,1002.6 407.4,1002.6 409.8,1002.5 412.3,1002.5 414.7,1002.4 417.2,1002.4 419.6,1002.3 422.1,1002.2 424.6,1002.1 427,1002 429.5,1002 431.9,1001.9 434.4,1001.8 436.8,1001.7 439.3,1001.6 441.7,1001.5 444.2,1001.5 446.6,1001.5 449.1,1001.5 451.5,1001.5 454,1001.5 456.4,1001.6 458.9,1001.6 461.3,1001.6 463.8,1001.7 466.2,1001.7 468.7,1001.7 471.1,1001.7 473.6,1001.7 476,1001.7 478.5,1001.7 480.9,1001.7 483.4,1001.7 485.8,1001.6 488.3,1001.6 490.8,1001.5 493.2,1001.5 495.7,1001.4 498.1,1001.3 500.6,1001.2 503,1001 505.5,1000.8 507.9,1000.6 510.4,1000.4 512.8,1000.2 515.3,1000 517.7,999.7 520.2,999.5 522.6,999.2 525.1,998.9 527.5,998.6 530,998.3 532.4,998 534.9,997.7 537.3,997.4 539.8,997 542.2,996.7 544.7,996.3 547.1,995.9 549.6,995.5 552.1,995.1 554.5,994.7 557,994.3 559.4,993.8 561.9,993.3 564.3,992.8 566.8,992.3 569.2,991.8 571.7,991.2 574.1,990.7 576.6,990.1 579,989.4 581.5,988.8 583.9,988.2 586.4,987.5 588.8,986.9 591.3,986.2 593.7,985.5 596.2,984.8 598.6,984.1 601.1,983.3 603.5,982.6 606,981.8 608.4,980.9 610.9,980.1 613.3,979.2 615.8,978.2 618.3,977.3 620.7,976.3 623.2,975.3 625.6,974.4 628.1,973.5 630.5,972.5 633,971.4 635.4,970.3 637.9,969.1 640.3,967.8 642.8,966.4 645.2,964.9 647.7,963.2 650.1,961.4 652.6,959.4 655,957.4 657.5,955.3 659.9,953 662.4,950.6 664.8,948 667.3,945.3 669.7,942.5 672.2,939.4 674.6,936.1 677.1,932.6 679.5,928.8 682,924.7 682,1017.7 679.5,1018.6 677.1,1019.5 674.6,1020.3 672.2,1021.2 669.7,1022 667.3,1022.8 664.8,1023.5 662.4,1024.3 659.9,1025.1 657.5,1025.8 655,1026.6 652.6,1027.4 650.1,1028.1 647.7,1028.9 645.2,1029.7 642.8,1030.4 640.3,1031.1 637.9,1031.8 635.4,1032.5 633,1033.1 630.5,1033.7 628.1,1034.2 625.6,1034.7 623.2,1035.2 620.7,1035.6 618.3,1036.1 615.8,1036.5 613.3,1036.8 610.9,1037.2 608.4,1037.5 606,1037.8 603.5,1038.1 601.1,1038.4 598.6,1038.7 596.2,1038.9 593.7,1039.2 591.3,1039.4 588.8,1039.6 586.4,1039.9 583.9,1040.1 581.5,1040.3 579,1040.6 576.6,1040.8 574.1,1041.1 571.7,1041.3 569.2,1041.6 566.8,1041.8 564.3,1042.1 561.9,1042.3 559.4,1042.6 557,1042.8 554.5,1043 552.1,1043.2 549.6,1043.4 547.1,1043.6 544.7,1043.8 542.2,1044 539.8,1044.3 537.3,1044.5 534.9,1044.7 532.4,1044.9 530,1045.1 527.5,1045.3 525.1,1045.5 522.6,1045.7 520.2,1045.9 517.7,1046.1 515.3,1046.3 512.8,1046.5 510.4,1046.6 507.9,1046.8 505.5,1046.9 503,1047 500.6,1047.1 498.1,1047.2 495.7,1047.2 493.2,1047.3 490.8,1047.3 488.3,1047.3 485.8,1047.2 483.4,1047.2 480.9,1047.2 478.5,1047.2 476,1047.2 473.6,1047.1 471.1,1047.1 468.7,1047.1 466.2,1047 463.8,1047 461.3,1047 458.9,1046.9 456.4,1046.9 454,1046.8 451.5,1046.8 449.1,1046.7 446.6,1046.7 444.2,1046.6 441.7,1046.6 439.3,1046.5 436.8,1046.5 434.4,1046.4 431.9,1046.4 429.5,1046.4 427,1046.3 424.6,1046.3 422.1,1046.3 419.6,1046.4 417.2,1046.4 414.7,1046.5 412.3,1046.5 409.8,1046.6 407.4,1046.7 404.9,1046.7 402.5,1046.8 400,1046.9 397.6,1046.9 395.1,1047 392.7,1047.1 390.2,1047.1 387.8,1047.2 385.3,1047.2 382.9,1047.3 380.4,1047.4 378,1047.4 375.5,1047.5 373.1,1047.5 370.6,1047.6 368.2,1047.6 365.7,1047.6 363.3,1047.6 360.8,1047.5 358.4,1047.4 355.9,1047.3 353.4,1047.2 351,1047.1 348.5,1047 346.1,1046.8 343.6,1046.7 341.2,1046.6 338.7,1046.5 336.3,1046.3 333.8,1046.2 331.4,1046.1 328.9,1046 326.5,1046 324,1045.9 321.6,1045.9 319.1,1045.9 316.7,1045.9 314.2,1045.9 311.8,1045.9 309.3,1046 306.9,1046 304.4,1046 302,1046 299.5,1046 297.1,1046.1 294.6,1046.1 292.2,1046.1 289.7,1046.1 287.2,1046.2 284.8,1046.2 282.3,1046.3 279.9,1046.3 277.4,1046.4 275,1046.5 272.5,1046.5 270.1,1046.6 267.6,1046.7 265.2,1046.7 262.7,1046.8 260.3,1046.8 257.8,1046.9 255.4,1047 252.9,1047 250.5,1047.1 248,1047.2 245.6,1047.2 243.1,1047.3 240.7,1047.3 238.2,1047.4 235.8,1047.4 233.3,1047.5 230.9,1047.5 228.4,1047.4 225.9,1047.4 223.5,1047.3 221,1047.2 218.6,1047.1 216.1,1047 213.7,1046.9 211.2,1046.7 208.8,1046.6 206.3,1046.4 203.9,1046.3 201.4,1046.1 199,1045.9 196.5,1045.8 194.1,1045.6 191.6,1045.5 189.2,1045.3 186.7,1045.1 184.3,1044.9 181.8,1044.8 179.4,1044.6 176.9,1044.4 174.5,1044.3 172,1044.1 169.6,1044 167.1,1043.9 164.7,1043.8 162.2,1043.7 159.7,1043.6 157.3,1043.6 154.8,1043.5 152.4,1043.4 149.9,1043.3 147.5,1043.2 145,1043.2 142.6,1043 140.1,1042.9 137.7,1042.8 135.2,1042.7 132.8,1042.5 130.3,1042.3 127.9,1042.1 125.4,1041.9 123,1041.7 120.5,1041.5 118.1,1041.2 115.6,1040.9 113.2,1040.6 110.7,1040.3 108.3,1040 105.8,1039.7 103.4,1039.3 100.9,1039 98.5,1038.6 96,1038.2"/>
<polyline stroke="#33cccc" stroke-width="7" stroke-dasharray="9.2 5.5 1.9 5.5 1.9 5.5" stroke-dashoffset="26.7" fill="none" points="96,916.2 98.5,920.6 100.9,924.7 103.4,928.6 105.8,932.2 108.3,935.6 110.7,938.9 113.2,941.9 115.6,944.9 118.1,947.6 120.5,950.2 123,952.7 125.4,955.1 127.9,957.4 130.3,959.6 132.8,961.6 135.2,963.6 137.7,965.5 140.1,967.3 142.6,969 145,970.7 147.5,972.3 149.9,973.8 152.4,975.3 154.8,976.7 157.3,978.1 159.7,979.4 162.2,980.7 164.7,981.9 167.1,983.1 169.6,984.2 172,985.3 174.5,986.3 176.9,987.4 179.4,988.4 181.8,989.3 184.3,990.2 186.7,991.1 189.2,992 191.6,992.8 194.1,993.6 196.5,994.4 199,995.2 201.4,995.9 203.9,996.6 206.3,997.3 208.8,998 211.2,998.6 213.7,999.3 216.1,999.9 218.6,1000.5 221,1001 223.5,1001.6 225.9,1002.1 228.4,1002.6 230.9,1003.2 233.3,1003.7 235.8,1004.1 238.2,1004.6 240.7,1005.1 243.1,1005.5 245.6,1005.9 248,1006.3 250.5,1006.7 252.9,1007.1 255.4,1007.5 257.8,1007.9 260.3,1008.2 262.7,1008.6 265.2,1008.9 267.6,1009.2 270.1,1009.5 272.5,1009.8 275,1010.1 277.4,1010.4 279.9,1010.7 282.3,1011 284.8,1011.2 287.2,1011.5 289.7,1011.7 292.2,1012 294.6,1012.2 297.1,1012.4 299.5,1012.6 302,1012.8 304.4,1013 306.9,1013.2 309.3,1013.4 311.8,1013.6 314.2,1013.8 316.7,1013.9 319.1,1014.1 321.6,1014.2 324,1014.4 326.5,1014.5 328.9,1014.6 331.4,1014.8 333.8,1014.9 336.3,1015 338.7,1015.1 341.2,1015.2 343.6,1015.3 346.1,1015.4 348.5,1015.5 351,1015.6 353.4,1015.6 355.9,1015.7 358.4,1015.8 360.8,1015.8 363.3,1015.9 365.7,1015.9 368.2,1016 370.6,1016 373.1,1016.1 375.5,1016.1 378,1016.1 380.4,1016.1 382.9,1016.1 385.3,1016.2 387.8,1016.2 390.2,1016.2 392.7,1016.1 395.1,1016.1 397.6,1016.1 400,1016.1 402.5,1016.1 404.9,1016.1 407.4,1016 409.8,1016 412.3,1015.9 414.7,1015.9 417.2,1015.8 419.6,1015.8 422.1,1015.7 424.6,1015.7 427,1015.6 429.5,1015.5 431.9,1015.4 434.4,1015.3 436.8,1015.3 439.3,1015.2 441.7,1015.1 444.2,1015 446.6,1014.8 449.1,1014.7 451.5,1014.6 454,1014.5 456.4,1014.4 458.9,1014.2 461.3,1014.1 463.8,1013.9 466.2,1013.8 468.7,1013.6 471.1,1013.5 473.6,1013.3 476,1013.1 478.5,1013 480.9,1012.8 483.4,1012.6 485.8,1012.4 488.3,1012.2 490.8,1012 493.2,1011.8 495.7,1011.6 498.1,1011.4 500.6,1011.1 503,1010.9 505.5,1010.6 507.9,1010.4 510.4,1010.1 512.8,1009.9 515.3,1009.6 517.7,1009.3 520.2,1009.1 522.6,1008.8 525.1,1008.5 527.5,1008.2 530,1007.8 532.4,1007.5 534.9,1007.2 537.3,1006.9 539.8,1006.5 542.2,1006.1 544.7,1005.8 547.1,1005.4 549.6,1005 552.1,1004.6 554.5,1004.2 557,1003.8 559.4,1003.4 561.9,1002.9 564.3,1002.5 566.8,1002 569.2,1001.5 571.7,1001 574.1,1000.5 576.6,1000 579,999.5 581.5,998.9 583.9,998.4 586.4,997.8 588.8,997.2 591.3,996.6 593.7,995.9 596.2,995.3 598.6,994.6 601.1,993.9 603.5,993.2 606,992.4 608.4,991.7 610.9,990.9 613.3,990 615.8,989.2 618.3,988.3 620.7,987.4 623.2,986.4 625.6,985.5 628.1,984.4 630.5,983.4 633,982.3 635.4,981.1 637.9,979.9 640.3,978.7 642.8,977.4 645.2,976 647.7,974.6 650.1,973.1 652.6,971.6 655,969.9 657.5,968.2 659.9,966.4 662.4,964.5 664.8,962.5 667.3,960.3 669.7,958.1 672.2,955.7 674.6,953.1 677.1,950.4 679.5,947.5 682,944.4"/>
<polyline stroke="#000" stroke-width="3.8" stroke-dasharray="5.0 5.8" stroke-dashoffset="3.2" fill="none" points="96,915.4 98.5,919.8 100.9,923.9 103.4,927.8 105.8,931.4 108.3,934.8 110.7,938.1 113.2,941.1 115.6,944.1 118.1,946.8 120.5,949.4 123,951.9 125.4,954.3 127.9,956.6 130.3,958.8 132.8,960.8 135.2,962.8 137.7,964.7 140.1,966.5 142.6,968.2 145,969.9 147.5,971.5 149.9,973 152.4,974.5 154.8,975.9 157.3,977.3 159.7,978.6 162.2,979.9 164.7,981.1 167.1,982.3 169.6,983.4 172,984.5 174.5,985.5 176.9,986.6 179.4,987.6 181.8,988.5 184.3,989.4 186.7,990.3 189.2,991.2 191.6,992 194.1,992.8 196.5,993.6 199,994.4 201.4,995.1 203.9,995.8 206.3,996.5 208.8,997.2 211.2,997.8 213.7,998.5 216.1,999.1 218.6,999.7 221,1000.2 223.5,1000.8 225.9,1001.3 228.4,1001.8 230.9,1002.4 233.3,1002.9 235.8,1003.3 238.2,1003.8 240.7,1004.3 243.1,1004.7 245.6,1005.1 248,1005.5 250.5,1005.9 252.9,1006.3 255.4,1006.7 257.8,1007.1 260.3,1007.4 262.7,1007.8 265.2,1008.1 267.6,1008.4 270.1,1008.7 272.5,1009 275,1009.3 277.4,1009.6 279.9,1009.9 282.3,1010.2 284.8,1010.4 287.2,1010.7 289.7,1010.9 292.2,1011.2 294.6,1011.4 297.1,1011.6 299.5,1011.8 302,1012 304.4,1012.2 306.9,1012.4 309.3,1012.6 311.8,1012.8 314.2,1013 316.7,1013.1 319.1,1013.3 321.6,1013.4 324,1013.6 326.5,1013.7 328.9,1013.8 331.4,1014 333.8,1014.1 336.3,1014.2 338.7,1014.3 341.2,1014.4 343.6,1014.5 346.1,1014.6 348.5,1014.7 351,1014.8 353.4,1014.8 355.9,1014.9 358.4,1015 360.8,1015 363.3,1015.1 365.7,1015.1 368.2,1015.2 370.6,1015.2 373.1,1015.3 375.5,1015.3 378,1015.3 380.4,1015.3 382.9,1015.3 385.3,1015.4 387.8,1015.4 390.2,1015.4 392.7,1015.3 395.1,1015.3 397.6,1015.3 400,1015.3 402.5,1015.3 404.9,1015.3 407.4,1015.2 409.8,1015.2 412.3,1015.1 414.7,1015.1 417.2,1015 419.6,1015 422.1,1014.9 424.6,1014.9 427,1014.8 429.5,1014.7 431.9,1014.6 434.4,1014.5 436.8,1014.5 439.3,1014.4 441.7,1014.3 444.2,1014.2 446.6,1014 449.1,1013.9 451.5,1013.8 454,1013.7 456.4,1013.6 458.9,1013.4 461.3,1013.3 463.8,1013.1 466.2,1013 468.7,1012.8 471.1,1012.7 473.6,1012.5 476,1012.3 478.5,1012.2 480.9,1012 483.4,1011.8 485.8,1011.6 488.3,1011.4 490.8,1011.2 493.2,1011 495.7,1010.8 498.1,1010.6 500.6,1010.3 503,1010.1 505.5,1009.8 507.9,1009.6 510.4,1009.3 512.8,1009.1 515.3,1008.8 517.7,1008.5 520.2,1008.3 522.6,1008 525.1,1007.7 527.5,1007.4 530,1007 532.4,1006.7 534.9,1006.4 537.3,1006.1 539.8,1005.7 542.2,1005.3 544.7,1005 547.1,1004.6 549.6,1004.2 552.1,1003.8 554.5,1003.4 557,1003 559.4,1002.6 561.9,1002.1 564.3,1001.7 566.8,1001.2 569.2,1000.7 571.7,1000.2 574.1,999.7 576.6,999.2 579,998.7 581.5,998.1 583.9,997.6 586.4,997 588.8,996.4 591.3,995.8 593.7,995.1 596.2,994.5 598.6,993.8 601.1,993.1 603.5,992.4 606,991.6 608.4,990.9 610.9,990.1 613.3,989.2 615.8,988.4 618.3,987.5 620.7,986.6 623.2,985.6 625.6,984.7 628.1,983.6 630.5,982.6 633,981.5 635.4,980.3 637.9,979.1 640.3,977.9 642.8,976.6 645.2,975.2 647.7,973.8 650.1,972.3 652.6,970.8 655,969.1 657.5,967.4 659.9,965.6 662.4,963.7 664.8,961.7 667.3,959.5 669.7,957.3 672.2,954.9 674.6,952.3 677.1,949.6 679.5,946.7 682,943.6"/>
<polyline stroke="#33cccc" stroke-width="4.1" fill="none" points="96,941.5 98.5,948 100.9,954 103.4,959.4 105.8,964.3 108.3,968.8 110.7,973 113.2,976.8 115.6,980.4 118.1,983.7 120.5,986.8 123,989.8 125.4,992.5 127.9,995 130.3,997.4 132.8,999.7 135.2,1001.9 137.7,1003.9 140.1,1005.8 142.6,1007.7 145,1009.4 147.5,1011.1 149.9,1012.7 152.4,1014.2 154.8,1015.7 157.3,1017.1 159.7,1018.4 162.2,1019.7 164.7,1021 167.1,1022.2 169.6,1023.3 172,1024.5 174.5,1025.5 176.9,1026.6 179.4,1027.6 181.8,1028.6 184.3,1029.5 186.7,1030.4 189.2,1031.3 191.6,1032.2 194.1,1033.1 196.5,1033.9 199,1034.7 201.4,1035.5 203.9,1036.2 206.3,1037 208.8,1037.7 211.2,1038.4 213.7,1039.1 216.1,1039.8 218.6,1040.5 221,1041.1 223.5,1041.7 225.9,1042.4 228.4,1043 230.9,1043.6 233.3,1044.2 235.8,1044.8 238.2,1045.3 240.7,1045.9 243.1,1046.5 245.6,1047 248,1047.5 250.5,1048.1 252.9,1048.6 255.4,1049.1 257.8,1049.6 260.3,1050.1 262.7,1050.6 265.2,1051.1 267.6,1051.6 270.1,1052.1 272.5,1052.5 275,1053 277.4,1053.4 279.9,1053.9 282.3,1054.4 284.8,1054.8 287.2,1055.2 289.7,1055.7 292.2,1056.1 294.6,1056.5 297.1,1057 299.5,1057.4 302,1057.8 304.4,1058.2 306.9,1058.6 309.3,1059 311.8,1059.4 314.2,1059.8 316.7,1060.2 319.1,1060.6 321.6,1061 324,1061.4 326.5,1061.8 328.9,1062.2 331.4,1062.6 333.8,1063 336.3,1063.3 338.7,1063.7 341.2,1064.1 343.6,1064.5 346.1,1064.8 348.5,1065.2 351,1065.6 353.4,1066 355.9,1066.3 358.4,1066.7 360.8,1067.1 363.3,1067.4 365.7,1067.8 368.2,1068.1 370.6,1068.5 373.1,1068.9 375.5,1069.2 378,1069.6 380.4,1069.9 382.9,1070.3 385.3,1070.6 387.8,1071 390.2,1071.4 392.7,1071.7 395.1,1072.1 397.6,1072.4 400,1072.8 402.5,1073.1 404.9,1073.5 407.4,1073.8 409.8,1074.2 412.3,1074.5 414.7,1074.9 417.2,1075.2 419.6,1075.6 422.1,1075.9 424.6,1076.3 427,1076.6 429.5,1077 431.9,1077.4 434.4,1077.7 436.8,1078.1 439.3,1078.4 441.7,1078.8 444.2,1079.2 446.6,1079.5 449.1,1079.9 451.5,1080.2 454,1080.6 456.4,1081 458.9,1081.3 461.3,1081.7 463.8,1082.1 466.2,1082.5 468.7,1082.8 471.1,1083.2 473.6,1083.6 476,1084 478.5,1084.4 480.9,1084.7 483.4,1085.1 485.8,1085.5 488.3,1085.9 490.8,1086.3 493.2,1086.7 495.7,1087.1 498.1,1087.5 500.6,1088 503,1088.4 505.5,1088.8 507.9,1089.2 510.4,1089.7 512.8,1090.1 515.3,1090.5 517.7,1091 520.2,1091.5 522.6,1091.9 525.1,1092.4 527.5,1092.9 530,1093.3 532.4,1093.8 534.9,1094.3 537.3,1094.8 539.8,1095.3 542.2,1095.8 544.7,1096.4 547.1,1096.9 549.6,1097.5 552.1,1098 554.5,1098.6 557,1099.2 559.4,1099.8 561.9,1100.4 564.3,1101 566.8,1101.6 569.2,1102.2 571.7,1102.9 574.1,1103.6 576.6,1104.3 579,1105 581.5,1105.7 583.9,1106.4 586.4,1107.2 588.8,1108 591.3,1108.8 593.7,1109.6 596.2,1110.5 598.6,1111.3 601.1,1112.2 603.5,1113.2 606,1114.1 608.4,1115.1 610.9,1116.1 613.3,1117.1 615.8,1118.2 618.3,1119.3 620.7,1120.5 623.2,1121.7 625.6,1122.9 628.1,1124.2 630.5,1125.5 633,1126.8 635.4,1128.2 637.9,1129.7 640.3,1131.2 642.8,1132.8 645.2,1134.4 647.7,1136.1 650.1,1137.9 652.6,1139.7 655,1141.6 657.5,1143.6 659.9,1145.7 662.4,1147.9 664.8,1150.1 667.3,1152.4 669.7,1154.9 672.2,1157.4 674.6,1160.1 677.1,1162.9 679.5,1165.8 682,1168.8"/>
</g>
<rect x="185" y="15" width="44.2" height="36" rx="2" fill="#ff00ff"/>
<line x1="186.4" y1="79.6" x2="224.6" y2="79.6" stroke="#000" stroke-width="4.2" stroke-dasharray="4.7 3.6"/>
<line x1="186.4" y1="126.9" x2="227.3" y2="126.9" stroke="#33cccc" stroke-width="4"/>
<line x1="186.4" y1="173.7" x2="227.3" y2="173.7" stroke="#33cccc" stroke-width="7" stroke-dasharray="7 3.9 1.7 3.9 1.7 3.8"/>
<g fill="#000">
<rect x="96" y="0.9" width="5" height="1220.1"/>
<rect x="677.3" y="0.9" width="4.6" height="1220.1"/>
<rect x="96" y="0.9" width="585.9" height="3.3"/>
<rect x="96" y="403.7" width="585.9" height="3.6"/>
<rect x="96" y="808" width="585.9" height="4.8"/>
<rect x="96" y="1217.7" width="585.9" height="3.3"/>
<rect x="100" y="378.1" width="10" height="4.3"/>
<rect x="670" y="378.1" width="8.3" height="4.3"/>
<rect x="100" y="340.2" width="10" height="4.3"/>
<rect x="670" y="340.2" width="8.3" height="4.3"/>
<rect x="100" y="302.5" width="10" height="4.3"/>
<rect x="670" y="302.5" width="8.3" height="4.3"/>
<rect x="100" y="264.7" width="20" height="4.3"/>
<rect x="658.7" y="264.7" width="19.6" height="4.3"/>
<rect x="100" y="226.8" width="10" height="4.3"/>
<rect x="670" y="226.8" width="8.3" height="4.3"/>
<rect x="100" y="189.1" width="10" height="4.3"/>
<rect x="670" y="189.1" width="8.3" height="4.3"/>
<rect x="100" y="151.3" width="10" height="4.3"/>
<rect x="670" y="151.3" width="8.3" height="4.3"/>
<rect x="100" y="113.5" width="20" height="4.3"/>
<rect x="658.7" y="113.5" width="19.6" height="4.3"/>
<rect x="100" y="75.7" width="10" height="4.3"/>
<rect x="670" y="75.7" width="8.3" height="4.3"/>
<rect x="100" y="37.9" width="10" height="4.3"/>
<rect x="670" y="37.9" width="8.3" height="4.3"/>
<rect x="98.8" y="3.2" width="4.4" height="4"/>
<rect x="137.1" y="3.2" width="4.4" height="4"/>
<rect x="175.4" y="3.2" width="4.4" height="9.2"/>
<rect x="213.7" y="3.2" width="4.4" height="4"/>
<rect x="252" y="3.2" width="4.4" height="4"/>
<rect x="290.3" y="3.2" width="4.4" height="4"/>
<rect x="328.5" y="3.2" width="4.4" height="9.2"/>
<rect x="366.8" y="3.2" width="4.4" height="4"/>
<rect x="405.1" y="3.2" width="4.4" height="4"/>
<rect x="443.4" y="3.2" width="4.4" height="4"/>
<rect x="481.7" y="3.2" width="4.4" height="9.2"/>
<rect x="520" y="3.2" width="4.4" height="4"/>
<rect x="558.2" y="3.2" width="4.4" height="4"/>
<rect x="596.5" y="3.2" width="4.4" height="4"/>
<rect x="634.8" y="3.2" width="4.4" height="9.2"/>
<rect x="673.1" y="3.2" width="4.4" height="4"/>
<rect x="100" y="783.1" width="10" height="4.3"/>
<rect x="670" y="783.1" width="8.3" height="4.3"/>
<rect x="100" y="745" width="10" height="4.3"/>
<rect x="670" y="745" width="8.3" height="4.3"/>
<rect x="100" y="707" width="10" height="4.3"/>
<rect x="670" y="707" width="8.3" height="4.3"/>
<rect x="100" y="669" width="20" height="4.3"/>
<rect x="658.7" y="669" width="19.6" height="4.3"/>
<rect x="100" y="630.9" width="10" height="4.3"/>
<rect x="670" y="630.9" width="8.3" height="4.3"/>
<rect x="100" y="592.9" width="10" height="4.3"/>
<rect x="670" y="592.9" width="8.3" height="4.3"/>
<rect x="100" y="554.8" width="10" height="4.3"/>
<rect x="670" y="554.8" width="8.3" height="4.3"/>
<rect x="100" y="516.8" width="20" height="4.3"/>
<rect x="658.7" y="516.8" width="19.6" height="4.3"/>
<rect x="100" y="478.8" width="10" height="4.3"/>
<rect x="670" y="478.8" width="8.3" height="4.3"/>
<rect x="100" y="440.7" width="10" height="4.3"/>
<rect x="670" y="440.7" width="8.3" height="4.3"/>
<rect x="98.8" y="406.3" width="4.4" height="3.8"/>
<rect x="137.1" y="406.3" width="4.4" height="3.8"/>
<rect x="175.4" y="406.3" width="4.4" height="9.4"/>
<rect x="213.7" y="406.3" width="4.4" height="3.8"/>
<rect x="252" y="406.3" width="4.4" height="3.8"/>
<rect x="290.3" y="406.3" width="4.4" height="3.8"/>
<rect x="328.5" y="406.3" width="4.4" height="9.4"/>
<rect x="366.8" y="406.3" width="4.4" height="3.8"/>
<rect x="405.1" y="406.3" width="4.4" height="3.8"/>
<rect x="443.4" y="406.3" width="4.4" height="3.8"/>
<rect x="481.7" y="406.3" width="4.4" height="9.4"/>
<rect x="520" y="406.3" width="4.4" height="3.8"/>
<rect x="558.2" y="406.3" width="4.4" height="3.8"/>
<rect x="596.5" y="406.3" width="4.4" height="3.8"/>
<rect x="634.8" y="406.3" width="4.4" height="9.4"/>
<rect x="673.1" y="406.3" width="4.4" height="3.8"/>
<rect x="100" y="1180.6" width="8" height="4.3"/>
<rect x="671.5" y="1180.6" width="6.8" height="4.3"/>
<rect x="100" y="1143.3" width="8" height="4.3"/>
<rect x="671.5" y="1143.3" width="6.8" height="4.3"/>
<rect x="100" y="1106.1" width="8" height="4.3"/>
<rect x="671.5" y="1106.1" width="6.8" height="4.3"/>
<rect x="100" y="1068.8" width="16.6" height="4.3"/>
<rect x="663.3" y="1068.8" width="15" height="4.3"/>
<rect x="100" y="1031.6" width="8" height="4.3"/>
<rect x="671.5" y="1031.6" width="6.8" height="4.3"/>
<rect x="100" y="994.4" width="8" height="4.3"/>
<rect x="671.5" y="994.4" width="6.8" height="4.3"/>
<rect x="100" y="957.1" width="8" height="4.3"/>
<rect x="671.5" y="957.1" width="6.8" height="4.3"/>
<rect x="100" y="919.9" width="16.6" height="4.3"/>
<rect x="663.3" y="919.9" width="15" height="4.3"/>
<rect x="100" y="882.6" width="8" height="4.3"/>
<rect x="671.5" y="882.6" width="6.8" height="4.3"/>
<rect x="100" y="845.4" width="8" height="4.3"/>
<rect x="671.5" y="845.4" width="6.8" height="4.3"/>
<rect x="101.1" y="811.8" width="4.4" height="5"/>
<rect x="101.1" y="1212.9" width="4.4" height="5.8"/>
<rect x="139.6" y="811.8" width="4.4" height="5"/>
<rect x="139.6" y="1212.9" width="4.4" height="5.8"/>
<rect x="178" y="811.8" width="4.4" height="11.8"/>
<rect x="178" y="1206.3" width="4.4" height="12.4"/>
<rect x="216.4" y="811.8" width="4.4" height="5"/>
<rect x="216.4" y="1212.9" width="4.4" height="5.8"/>
<rect x="254.9" y="811.8" width="4.4" height="5"/>
<rect x="254.9" y="1212.9" width="4.4" height="5.8"/>
<rect x="293.4" y="811.8" width="4.4" height="5"/>
<rect x="293.4" y="1212.9" width="4.4" height="5.8"/>
<rect x="331.8" y="811.8" width="4.4" height="11.8"/>
<rect x="331.8" y="1206.3" width="4.4" height="12.4"/>
<rect x="370.2" y="811.8" width="4.4" height="5"/>
<rect x="370.2" y="1212.9" width="4.4" height="5.8"/>
<rect x="408.7" y="811.8" width="4.4" height="5"/>
<rect x="408.7" y="1212.9" width="4.4" height="5.8"/>
<rect x="447.2" y="811.8" width="4.4" height="5"/>
<rect x="447.2" y="1212.9" width="4.4" height="5.8"/>
<rect x="485.6" y="811.8" width="4.4" height="11.8"/>
<rect x="485.6" y="1206.3" width="4.4" height="12.4"/>
<rect x="524" y="811.8" width="4.4" height="5"/>
<rect x="524" y="1212.9" width="4.4" height="5.8"/>
<rect x="562.5" y="811.8" width="4.4" height="5"/>
<rect x="562.5" y="1212.9" width="4.4" height="5.8"/>
<rect x="601" y="811.8" width="4.4" height="5"/>
<rect x="601" y="1212.9" width="4.4" height="5.8"/>
<rect x="639.4" y="811.8" width="4.4" height="11.8"/>
<rect x="639.4" y="1206.3" width="4.4" height="12.4"/>
<rect x="677.8" y="811.8" width="4.1" height="5"/>
<rect x="677.8" y="1212.9" width="4.1" height="5.8"/>
</g>
<text class="s" x="72.2" y="128.6" font-size="39" textLength="20.6" lengthAdjust="spacingAndGlyphs">2</text>
<text class="s" x="72.2" y="279.8" font-size="39" textLength="20.6" lengthAdjust="spacingAndGlyphs">0</text>
<text class="s" x="72.2" y="531.9" font-size="39" textLength="20.6" lengthAdjust="spacingAndGlyphs">2</text>
<text class="s" x="72.2" y="684.1" font-size="39" textLength="20.6" lengthAdjust="spacingAndGlyphs">0</text>
<text class="s" x="72.2" y="935" font-size="39" textLength="20.6" lengthAdjust="spacingAndGlyphs">2</text>
<text class="s" x="72.2" y="1084" font-size="39" textLength="20.6" lengthAdjust="spacingAndGlyphs">0</text>
<text class="s" x="179.2" y="1257.6" font-size="38" text-anchor="middle">2</text>
<text class="s" x="333" y="1257.6" font-size="38" text-anchor="middle">4</text>
<text class="s" x="486.8" y="1257.6" font-size="38" text-anchor="middle">6</text>
<text class="s" x="640.6" y="1257.6" font-size="38" text-anchor="middle">8</text>
<g transform="translate(35.6,166.5) rotate(-90)"><text class="s" x="-0.7" y="0" font-size="38">Re(</text><text class="s" x="52.9" y="0" font-size="38">Δ</text><text class="s" x="74.8" y="0" font-size="38" font-style="italic">C</text><text class="s" x="108.6" y="-18.2" font-size="25.3">total</text><text class="s" x="101.6" y="11.5" font-size="25">9, 1</text><text class="s" x="153.6" y="0" font-size="38">)</text></g>
<g transform="translate(34.8,566.5) rotate(-90)"><text class="s" x="-0.7" y="0" font-size="38">Re(</text><text class="s" x="52.9" y="0" font-size="38">Δ</text><text class="s" x="74.8" y="0" font-size="38" font-style="italic">C</text><text class="s" x="106.8" y="-18.2" font-size="25.3">total</text><text class="s" x="101.6" y="11.5" font-size="25">9, 2</text><text class="s" x="150.4" y="0" font-size="38">)</text></g>
<g transform="translate(35.6,974.6) rotate(-90)"><text class="s" x="-0.7" y="0" font-size="38">Re(</text><text class="s" x="52.9" y="0" font-size="38">Δ</text><text class="s" x="74.8" y="0" font-size="38" font-style="italic">C</text><text class="s" x="108.6" y="-18.2" font-size="25.3">total</text><text class="s" x="101.6" y="11.5" font-size="25">9, 3</text><text class="s" x="153.6" y="0" font-size="38">)</text></g>
<text class="s" x="483.8" y="1304" font-size="38" font-style="italic">q</text>
<text class="s" x="503.2" y="1294.2" font-size="26">2</text>
<text class="s" x="526" y="1304" font-size="38">(GeV</text>
<text class="s" x="607.4" y="1288" font-size="26">2</text>
<text class="s" x="620" y="1304" font-size="38">/</text>
<text class="s" x="632.4" y="1304" font-size="38" font-style="italic">c</text>
<text class="s" x="655.2" y="1294.8" font-size="26">4</text>
<text class="s" x="668.2" y="1304" font-size="38">)</text>
<text class="h" x="234.6" y="43.9" font-size="26.6" textLength="239" lengthAdjust="spacingAndGlyphs">JHEP09 (2010) 089</text>
<text class="g" x="235.4" y="90.2" font-size="26">θ</text><text class="h" x="248.6" y="77.1" font-size="18.6">All</text><text class="h" x="248.6" y="99.5" font-size="19">J/</text><text class="g" x="265.4" y="99.5" font-size="16.4">ψ</text><text class="h" x="285.6" y="90.2" font-size="24.5" textLength="16.7" lengthAdjust="spacingAndGlyphs">=</text><text class="h" x="308.4" y="90.2" font-size="24.5">0,</text><text class="g" x="341.7" y="90.2" font-size="26">θ</text><text class="h" x="355.1" y="77.1" font-size="18.6">All</text><text class="g" x="355.1" y="100" font-size="16.4">ψ</text><text class="h" x="368.1" y="99.7" font-size="18.4">(2s)</text><text class="h" x="408" y="90.2" font-size="24.5" textLength="16.7" lengthAdjust="spacingAndGlyphs">=</text><text class="h" x="431.6" y="90.2" font-size="24.5">0</text>
<text class="g" x="235.4" y="137.2" font-size="26">θ</text><text class="h" x="248.6" y="124.1" font-size="18.6">0</text><text class="h" x="248.6" y="146.5" font-size="19">J/</text><text class="g" x="265.4" y="146.5" font-size="16.4">ψ</text><text class="h" x="285.6" y="137.2" font-size="24.5" textLength="16.7" lengthAdjust="spacingAndGlyphs">=</text><text class="h" x="308.4" y="137.2" font-size="24.5">0,</text><text class="g" x="341.7" y="137.2" font-size="26">θ</text><text class="h" x="355.1" y="124.1" font-size="18.6">0</text><text class="g" x="355.1" y="147" font-size="16.4">ψ</text><text class="h" x="368.1" y="146.7" font-size="18.4">(2s)</text><text class="h" x="408" y="137.2" font-size="24.5" textLength="16.7" lengthAdjust="spacingAndGlyphs">=</text><text class="h" x="431.6" y="137.2" font-size="24.5">0</text>
<text class="g" x="235.4" y="184.6" font-size="26">θ</text><text class="h" x="248.6" y="171.5" font-size="18.6">0</text><text class="h" x="248.6" y="193.9" font-size="19">J/</text><text class="g" x="265.4" y="193.9" font-size="16.4">ψ</text><text class="h" x="285.6" y="184.6" font-size="24.5" textLength="16.7" lengthAdjust="spacingAndGlyphs">=</text><text class="g" x="311.5" y="184.6" font-size="26" textLength="15.2" lengthAdjust="spacingAndGlyphs">π</text><text class="h" x="327.6" y="184.6" font-size="24.5">,</text><text class="g" x="347.8" y="184.6" font-size="26">θ</text><text class="h" x="361.2" y="171.5" font-size="18.6">0</text><text class="g" x="361.2" y="198.2" font-size="16.4">ψ</text><text class="h" x="373.2" y="197.9" font-size="18.4">(2s)</text><text class="h" x="412.1" y="184.6" font-size="24.5" textLength="16.7" lengthAdjust="spacingAndGlyphs">=</text><text class="g" x="438.9" y="184.6" font-size="26" textLength="15.2" lengthAdjust="spacingAndGlyphs">π</text>
</svg></body></html>
